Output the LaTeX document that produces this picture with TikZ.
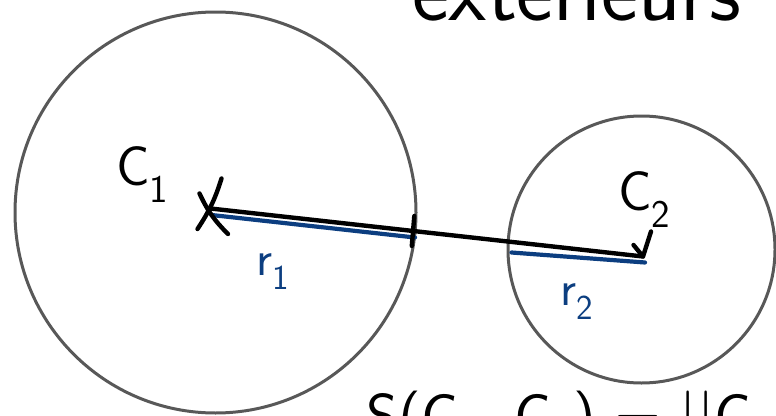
\documentclass[tikz,border=0pt]{standalone}
\definecolor{ringgray}{RGB}{88,88,88}
\definecolor{radblue}{RGB}{12,62,128}
\tikzset{
  ring/.style={circle, draw=ringgray, line width=3pt, inner sep=0pt},
  pen/.style={line width=4.4pt, line cap=round, line join=round, black},
  bluepen/.style={line width=4.2pt, line cap=round, radblue},
  hand/.style={font=\sffamily\fontsize{56}{60}\selectfont, inner sep=0pt, anchor=base west},
  bluehand/.style={hand, text=radblue, font=\sffamily\fontsize{50}{54}\selectfont},
  cut/.style={font=\sffamily\fontsize{62}{66}\selectfont, inner sep=0pt, anchor=base west}
}
\begin{document}
\begin{tikzpicture}[x=1pt,y=-1pt]
\useasboundingbox (0,0) rectangle (776,415);
\clip (0,0) rectangle (776,415);
% circles
\node[ring, minimum size=401pt] (circA) at (215.5,212.5) {};
\node[ring, minimum size=267pt] (circB) at (641.5,249.5) {};
% key points
\coordinate (cA) at (210.5,208.5);
\coordinate (cB) at (643,256.5);
\coordinate (rA1) at (211.5,215);
\coordinate (rA2) at (415,237.5);
\coordinate (rB1) at (511.5,252.5);
\coordinate (rB2) at (645,262.5);
\coordinate (xa1) at (221.5,178.5);
\coordinate (xa2) at (197.5,229);
\coordinate (xb1) at (199.5,193.5);
\coordinate (xb2) at (228,234);
\coordinate (tk1) at (414.3,216);
\coordinate (tk2) at (411.8,246);
\coordinate (ah1) at (651,231.5);
\coordinate (ah2) at (633.5,245);
% radii
\draw[bluepen] (rA1) -- (rA2);
\draw[bluepen] (rB1) -- (rB2);
% centre line
\draw[pen] (cA) -- (cB);
% X mark at C1
\draw[pen] (xa1) to[bend left=8] (xa2);
\draw[pen] (xb1) to[bend right=10] (xb2);
% tick on big circle
\draw[pen] (tk1) -- (tk2);
% tip at C2
\draw[pen] (ah1) -- (cB) -- (ah2);
% labels
\node[hand] (lblC1) at (116,185) {C\textsubscript{1}};
\node[hand] (lblC2) at (618,210) {C\textsubscript{2}};
\node[bluehand] (lblr1) at (256,275) {r\textsubscript{1}};
\node[bluehand] (lblr2) at (560,305) {r\textsubscript{2}};
% cut-off texts
\node[cut, font=\sffamily\fontsize{88}{92}\selectfont] (topword) at (412,20) {extérieurs};
\node[cut] (bottomline) at (366,437) {S(C\textsubscript{1}, C\textsubscript{2}) = ||C};
\end{tikzpicture}
\end{document}
